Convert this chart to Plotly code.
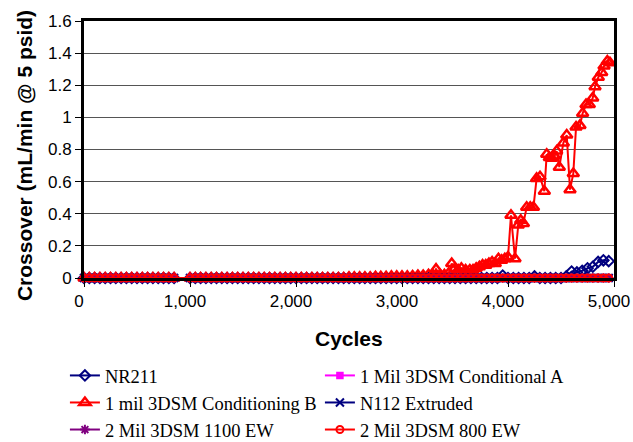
import plotly.graph_objects as go

# Shared cycle grid (gap between ~850 and 1000)
cycles = [0, 50, 100, 150, 200, 250, 300, 350, 400, 450, 500, 550, 600, 650, 700, 750, 800, 850,
          1000, 1050, 1100, 1150, 1200, 1250, 1300, 1350, 1400, 1450, 1500, 1550, 1600, 1650, 1700, 1750,
          1800, 1850, 1900, 1950, 2000, 2050, 2100, 2150, 2200, 2250, 2300, 2350, 2400, 2450, 2500, 2550,
          2600, 2650, 2700, 2750, 2800, 2850, 2900, 2950, 3000, 3050, 3100, 3150, 3200, 3250, 3300, 3350,
          3400, 3450, 3500, 3550, 3600, 3650, 3700, 3750, 3800, 3850, 3900, 3950, 4000, 4050, 4100, 4150,
          4200, 4250, 4300, 4350, 4400, 4450, 4500, 4550, 4600, 4650, 4700, 4750, 4800, 4850, 4900, 4950]

nr211 = [0, 0, 0, 0, 0, 0, 0, 0, 0, 0, 0, 0, 0, 0, 0, 0, 0, 0,
         0, 0, 0, 0, 0, 0, 0, 0, 0, 0, 0, 0, 0, 0, 0, 0,
         0, 0, 0, 0, 0, 0, 0, 0, 0, 0, 0, 0, 0, 0, 0, 0,
         0, 0, 0, 0, 0, 0, 0, 0, 0, 0, 0, 0, 0, 0, 0, 0,
         0, 0, 0, 0, 0, 0, 0, 0, 0, 0, 0, 0.015, 0, 0, 0, 0,
         0, 0.01, 0, 0, 0, 0, 0, 0.01, 0.04, 0.035, 0.045, 0.06, 0.07, 0.10, 0.11, 0.105]

cond_a = [0, 0, 0, 0, 0, 0, 0, 0, 0, 0, 0, 0, 0, 0, 0, 0, 0, 0,
          0, 0, 0, 0, 0, 0, 0, 0, 0, 0, 0, 0, 0, 0, 0, 0,
          0, 0, 0, 0, 0, 0, 0, 0, 0, 0, 0, 0, 0, 0, 0, 0,
          0, 0, 0, 0, 0, 0, 0, 0, 0, 0, 0, 0, 0, 0, 0, 0,
          0, 0, 0, 0, 0, 0, 0, 0, 0, 0, 0, 0, 0, 0, 0, 0,
          0, 0, 0, 0, 0, 0, 0, 0, 0, 0, 0, 0, 0, 0, 0, 0]

n112 = [0, 0, 0, 0, 0, 0, 0, 0, 0, 0, 0, 0, 0, 0, 0, 0, 0, 0,
        0, 0, 0, 0, 0, 0, 0, 0, 0, 0, 0, 0, 0, 0, 0, 0,
        0, 0, 0, 0, 0, 0, 0, 0, 0, 0, 0, 0, 0, 0, 0, 0,
        0, 0, 0, 0, 0, 0, 0, 0, 0, 0, 0, 0, 0, 0, 0, 0,
        0, 0, 0, 0, 0, 0, 0, 0, 0, 0, 0, 0, 0, 0, 0, 0,
        0, 0, 0, 0, 0, 0, 0, 0, 0, 0, 0, 0, 0, 0, 0, 0]

ew1100 = [0, 0, 0, 0, 0, 0, 0, 0, 0, 0, 0, 0, 0, 0, 0, 0, 0, 0,
          0, 0, 0, 0, 0, 0, 0, 0, 0, 0, 0, 0, 0, 0, 0, 0,
          0, 0, 0, 0, 0, 0, 0, 0, 0, 0, 0, 0, 0, 0, 0, 0,
          0, 0, 0, 0, 0, 0, 0, 0, 0, 0, 0, 0, 0, 0, 0, 0,
          0, 0, 0, 0, 0, 0, 0, 0, 0, 0, 0, 0, 0, 0, 0, 0,
          0, 0, 0, 0, 0, 0, 0, 0, 0, 0, 0, 0, 0, 0, 0, 0]

ew800 = [0, 0, 0, 0, 0, 0, 0, 0, 0, 0, 0, 0, 0, 0, 0, 0, 0, 0,
         0, 0, 0, 0, 0, 0, 0, 0, 0, 0, 0, 0, 0, 0, 0, 0,
         0, 0, 0, 0, 0, 0, 0, 0, 0, 0, 0, 0, 0, 0, 0, 0,
         0, 0, 0, 0, 0, 0, 0, 0, 0, 0, 0, 0, 0, 0, 0, 0,
         0, 0, 0, 0, 0, 0, 0, 0, 0, 0, 0, 0, 0, 0, 0, 0,
         0, 0, 0, 0, 0, 0, 0, 0, 0, 0, 0, 0, 0, 0, 0, 0]

# 1 mil 3DSM Conditioning B has its own (denser) sampling in the rising part
cond_b_cycles = [0, 50, 100, 150, 200, 250, 300, 350, 400, 450, 500, 550, 600, 650, 700, 750, 800, 850,
                 1000, 1050, 1100, 1150, 1200, 1250, 1300, 1350, 1400, 1450, 1500, 1550, 1600, 1650, 1700,
                 1750, 1800, 1850, 1900, 1950, 2000, 2050, 2100, 2150, 2200, 2250, 2300, 2350, 2400, 2450,
                 2500, 2550, 2600, 2650, 2700, 2750, 2800, 2850, 2900, 2950, 3000, 3050, 3100, 3150, 3200,
                 3250, 3290, 3321, 3360, 3400, 3440, 3469, 3500, 3530, 3560, 3600, 3640, 3670, 3700, 3730,
                 3760, 3790, 3820, 3850, 3880, 3910, 3940, 3970, 4000, 4028, 4066, 4097, 4120, 4145, 4176,
                 4210, 4240, 4270, 4302, 4343, 4365, 4390, 4412, 4440, 4459, 4484, 4522, 4554, 4585, 4616,
                 4642, 4679, 4704, 4736, 4767, 4799, 4821, 4852, 4884, 4906, 4937, 4962]
cond_b = [0, 0, 0, 0, 0, 0, 0, 0, 0, 0, 0, 0, 0, 0, 0, 0, 0, 0,
          0, 0, 0, 0, 0, 0, 0, 0, 0, 0, 0, 0, 0, 0, 0,
          0, 0, 0, 0, 0, 0, 0, 0, 0, 0, 0, 0, 0, 0, 0,
          0.005, 0.005, 0.005, 0.005, 0.005, 0.008, 0.008, 0.008, 0.01, 0.01, 0.01, 0.01, 0.012, 0.015, 0.015,
          0.02, 0.02, 0.055, 0.02, 0.02, 0.03, 0.09, 0.06, 0.05, 0.06, 0.05, 0.05, 0.05, 0.06, 0.07,
          0.08, 0.08, 0.09, 0.10, 0.09, 0.12, 0.11, 0.12, 0.13, 0.39, 0.12, 0.33, 0.36, 0.34, 0.44,
          0.44, 0.44, 0.62, 0.63, 0.54, 0.77, 0.75, 0.745, 0.76, 0.79, 0.69, 0.84, 0.89, 0.55, 0.65,
          0.94, 0.95, 1.025, 1.08, 1.08, 1.12, 1.19, 1.25, 1.28, 1.32, 1.35, 1.34]

x_ticks = [0, 1000, 2000, 3000, 4000, 5000]
x_tick_labels = ["0", "1,000", "2,000", "3,000", "4,000", "5,000"]

fig = go.Figure()

def add(name, x, y, color, symbol, size, mlw=1.5):
    fig.add_trace(go.Scatter(
        x=x, y=y, name=name, mode="lines+markers",
        line=dict(color=color, width=2),
        marker=dict(symbol=symbol, size=size, color=color, line=dict(color=color, width=mlw)),
        cliponaxis=False,
    ))

add("NR211", cycles, nr211, "#000080", "diamond-open", 8, 2)
add("1 Mil 3DSM Conditional A", cycles, cond_a, "#FF00FF", "square", 6)
add("1 mil 3DSM Conditioning B", cond_b_cycles, cond_b, "#FF0000", "triangle-up-open", 10, 2.5)
add("N112 Extruded", cycles, n112, "#000080", "x-thin-open", 8, 2)
add("2 Mil 3DSM 1100 EW", cycles, ew1100, "#800080", "asterisk-open", 8, 2)
add("2 Mil 3DSM 800 EW", cycles, ew800, "#FF0000", "circle-open", 7, 2)

fig.update_layout(
    width=633, height=442,
    margin=dict(l=84, r=19, t=21, b=164, autoexpand=False),
    paper_bgcolor="white", plot_bgcolor="white",
    showlegend=True,
    legend=dict(
        orientation="h", x=-0.036, y=-0.307, xanchor="left", yanchor="top",
        font=dict(family="Liberation Serif", size=18.5, color="black"),
        entrywidth=210, entrywidthmode="pixels", itemwidth=30,
        bgcolor="rgba(0,0,0,0)", borderwidth=0, traceorder="normal",
    ),
    xaxis=dict(
        range=[0, 5000], tickvals=x_ticks, ticktext=x_tick_labels,
        showgrid=False, zeroline=False,
        showline=True, linecolor="black", linewidth=3, mirror=True,
        ticks="outside", ticklen=6, tickwidth=1, tickcolor="black",
        ticklabeloverflow="allow", ticklabelshift=-5,
        tickfont=dict(family="Liberation Sans", size=17, color="black"),
    ),
    yaxis=dict(
        range=[0, 1.6], dtick=0.2, tick0=0,
        showgrid=True, gridcolor="#555555", gridwidth=1, zeroline=False,
        showline=True, linecolor="black", linewidth=3, mirror=True,
        ticks="outside", ticklen=6, tickwidth=1, tickcolor="black",
        tickfont=dict(family="Liberation Sans", size=17, color="black"),
    ),
    annotations=[
        dict(text="<b>Crossover (mL/min @ 5 psid)</b>", textangle=-90,
             xref="paper", yref="paper", x=-0.111, y=0.475, xanchor="center", yanchor="middle",
             showarrow=False, font=dict(family="Liberation Sans", size=21, color="black")),
        dict(text="<b>Cycles</b>",
             xref="paper", yref="paper", x=0.5, y=-0.2335, xanchor="center", yanchor="middle",
             showarrow=False, font=dict(family="Liberation Sans", size=21, color="black")),
    ],
)

fig.write_html(
    "out.html",
    config={"displayModeBar": False},
    post_script="document.body.style.margin='0';document.body.style.overflow='hidden';",
)
